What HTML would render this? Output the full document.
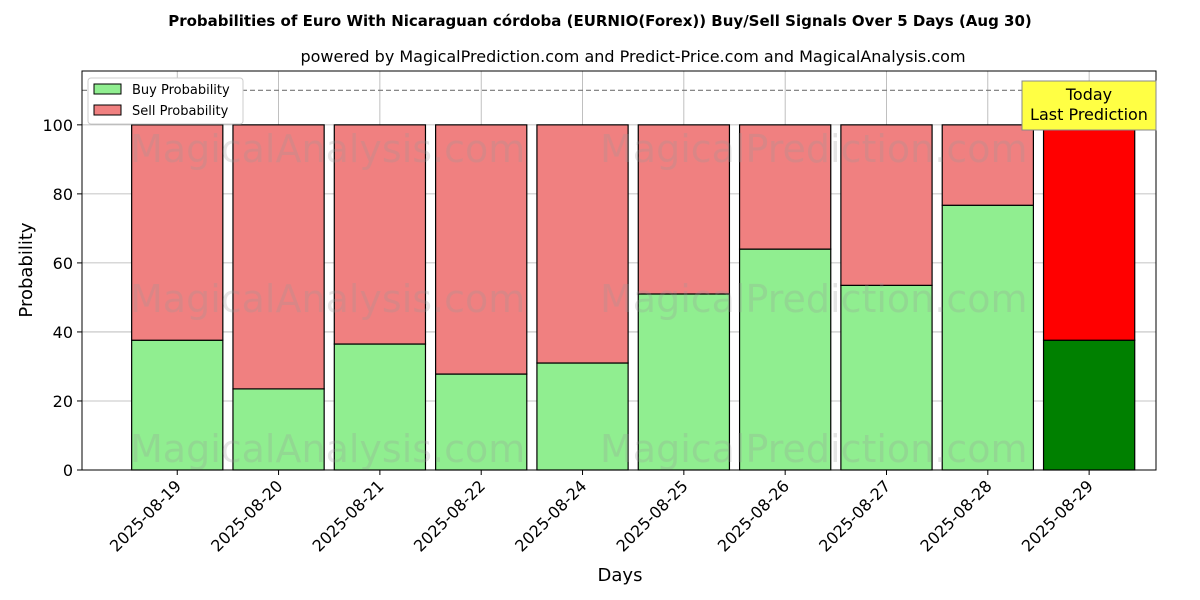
<!DOCTYPE html>
<html><head><meta charset="utf-8"><style>
body{margin:0;background:#fff;}
svg{display:block;font-family:"DejaVu Sans","Liberation Sans",sans-serif;}
</style></head><body>
<svg id="chart" width="1200" height="600" viewBox="0 0 1200 600">
<text x="600" y="26" text-anchor="middle" font-size="15" font-weight="bold">Probabilities of Euro With Nicaraguan córdoba (EURNIO(Forex)) Buy/Sell Signals Over 5 Days (Aug 30)</text>
<text x="633" y="62" text-anchor="middle" font-size="16">powered by MagicalPrediction.com and Predict-Price.com and MagicalAnalysis.com</text>
<g id="grid"></g>
<g id="bars"></g>
<g font-size="38" fill="#999" opacity="0.25">
<text x="130" y="162">MagicalAnalysis.com</text><text x="600" y="162">MagicalPrediction.com</text>
<text x="130" y="312">MagicalAnalysis.com</text><text x="600" y="312">MagicalPrediction.com</text>
<text x="130" y="462">MagicalAnalysis.com</text><text x="600" y="462">MagicalPrediction.com</text>
</g>
<g id="axes"></g>
<text x="620" y="581" text-anchor="middle" font-size="18">Days</text>
<text transform="translate(32,270) rotate(-90)" text-anchor="middle" font-size="18">Probability</text>
<g>
<rect x="88" y="78" width="155" height="46" fill="#fff" stroke="#ccc" rx="3"/>
<rect x="94" y="84" width="27" height="10" fill="#90ee90" stroke="#000"/>
<text x="132" y="94" font-size="13">Buy Probability</text>
<rect x="94" y="105" width="27" height="10" fill="#f08080" stroke="#000"/>
<text x="132" y="115" font-size="13">Sell Probability</text>
</g>
<g>
<rect x="1022" y="81" width="134" height="49" fill="#ffff44" stroke="#888"/>
<text x="1089" y="100" text-anchor="middle" font-size="16">Today</text>
<text x="1089" y="120" text-anchor="middle" font-size="16">Last Prediction</text>
</g>
</svg>
<script>
const categories=["2025-08-19","2025-08-20","2025-08-21","2025-08-22","2025-08-24","2025-08-25","2025-08-26","2025-08-27","2025-08-28","2025-08-29"];
const buyValues=[37.6,23.5,36.5,27.8,31,51,64,53.5,76.7,37.6];
const yTicks=[0,20,40,60,80,100];
const NS="http://www.w3.org/2000/svg";
const L=82,R=1156,T=71,B=470;
const x=i=>L+(i+0.94)/(10.6)*(R-L);
const y=v=>B-v/115.6*(B-T);
const bw=0.9*(R-L)/10.6;
function mk(tag,attrs,parent){const e=document.createElementNS(NS,tag);for(const k in attrs)e.setAttribute(k,attrs[k]);parent.appendChild(e);return e;}
const grid=document.getElementById('grid'),bars=document.getElementById('bars'),axes=document.getElementById('axes');
yTicks.forEach(t=>{
 const g=mk('line',{x1:L,x2:R,y1:y(t),y2:y(t),stroke:'#b0b0b0','stroke-width':0.8},grid);
 
 
 mk('line',{x1:L-5,x2:L,y1:y(t),y2:y(t),stroke:'#000'},axes);
 const lb=mk('text',{x:L-9,y:y(t)+6,'text-anchor':'end','font-size':16},axes);
 lb.textContent=t;
 
 
});
categories.forEach((c,i)=>{
 const cx=x(i);
 const g=mk('line',{x1:cx,x2:cx,y1:T,y2:B,stroke:'#b0b0b0','stroke-width':0.8},grid);
 
 
 const last=i===categories.length-1;
 const b=buyValues[i];
 const rb=mk('rect',{x:cx-bw/2,y:y(b),width:bw,height:y(0)-y(b),fill:last?'#008000':'#90ee90',stroke:'#000','stroke-width':1.2},bars);
 
 
 const rs=mk('rect',{x:cx-bw/2,y:y(100),width:bw,height:y(b)-y(100),fill:last?'#ff0000':'#f08080',stroke:'#000','stroke-width':1.2},bars);
 
 
 mk('line',{x1:cx,x2:cx,y1:B,y2:B+5,stroke:'#000'},axes);
 const lb=mk('text',{x:0,y:0,'text-anchor':'end','font-size':16,transform:`translate(${cx+5},${B+17}) rotate(-45)`},axes);
 lb.textContent=c;
 
 
});
const d=mk('line',{x1:L,x2:R,y1:y(110),y2:y(110),stroke:'#777','stroke-dasharray':'5,3','stroke-width':1.2},axes);


const fr=mk('rect',{x:L,y:T,width:R-L,height:B-T,fill:'none',stroke:'#000','stroke-width':1},axes);


</script>
</body></html>
